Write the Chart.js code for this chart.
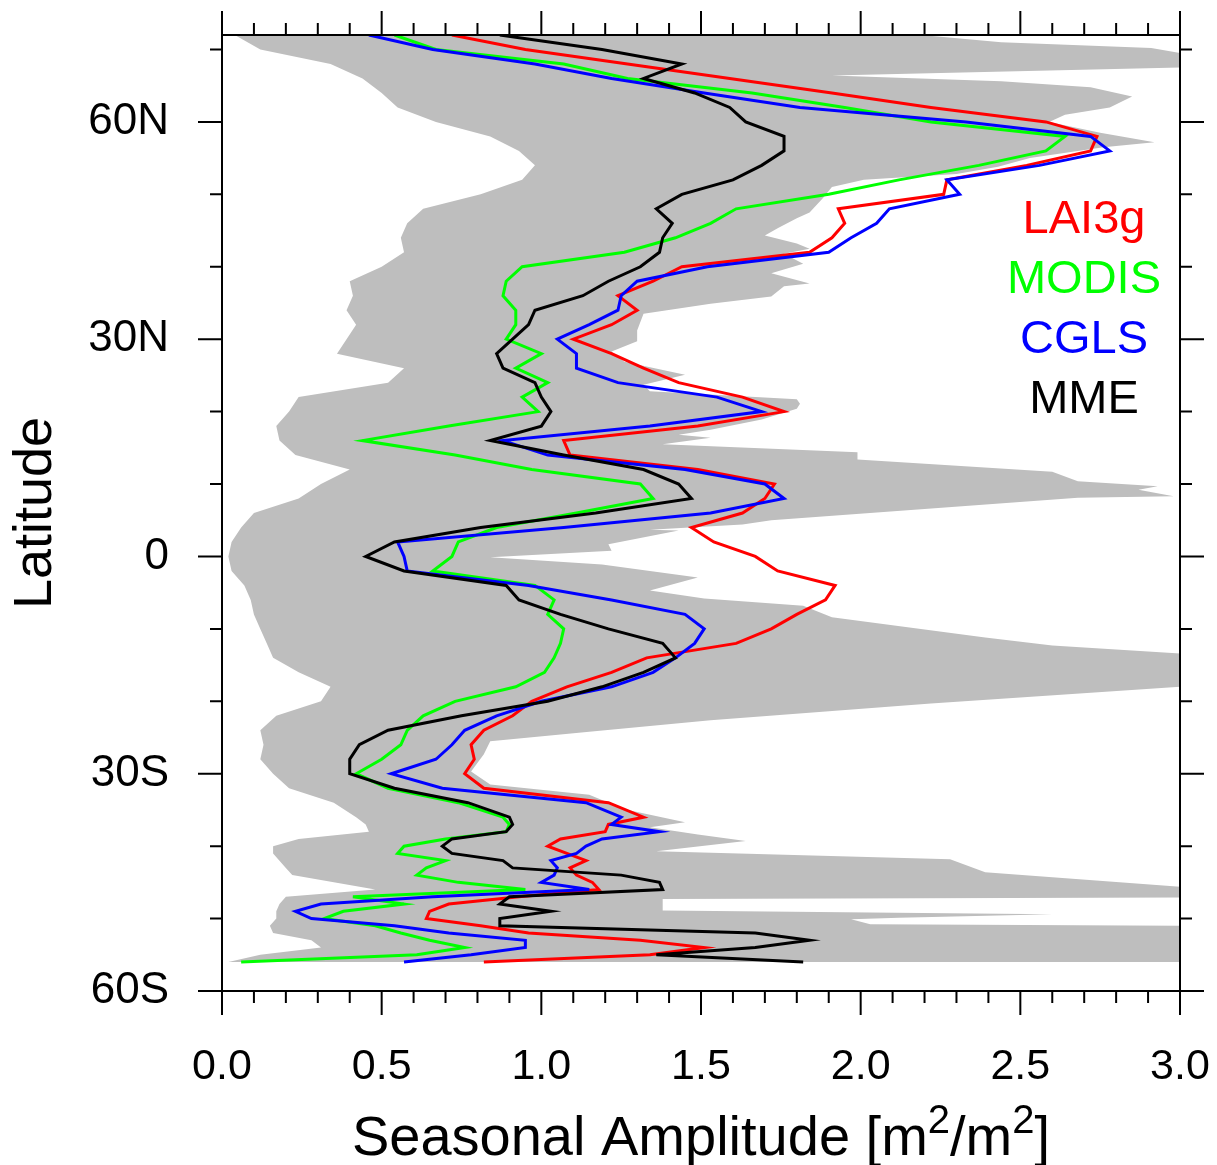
<!DOCTYPE html>
<html lang="en">
<head>
<meta charset="UTF-8">
<title>Seasonal Amplitude by Latitude</title>
<script src="https://cdn.jsdelivr.net/npm/chart.js@4.4.0/dist/chart.umd.min.js"></script>
<style>
  html, body { margin: 0; padding: 0; background: #fff; }
</style>
</head>
<body>
<canvas id="amp" width="1217" height="1165"></canvas>
<script>
// latitude of each profile sample (+ = N, - = S); 1 degree steps in the jagged far south
const lats = [72,70,68,66,64,62,60,58,56,54,52,50,48,46,44,42,40,38,36,34,32,30,28,26,24,22,20,18,16,14,12,10,8,6,4,2,0,
  -2,-4,-6,-8,-10,-12,-14,-16,-18,-20,-22,-24,-26,-28,-30,-32,-34,
  -36,-37,-38,-39,-40,-41,-42,-43,-44,-45,-46,-47,-48,-49,-50,-51,-52,-53,-54,-55,-56];

// seasonal amplitude [m2/m2]
const lai3g = [0.72,0.95,1.27,1.59,1.91,2.22,2.58,2.74,2.72,2.52,2.27,2.26,1.93,1.95,1.91,1.84,1.44,1.35,1.24,1.30,1.22,1.10,1.22,1.32,1.43,1.63,1.76,1.49,1.07,1.09,1.49,1.73,1.70,1.63,1.47,1.54,1.67,
  1.74,1.92,1.89,1.80,1.72,1.61,1.33,1.22,1.08,0.97,0.91,0.82,0.78,0.79,0.76,0.82,1.21,
  1.32,1.21,1.20,1.06,1.02,1.08,1.14,1.09,1.11,1.16,1.18,0.93,0.71,0.65,0.64,0.81,0.96,1.31,1.51,1.34,0.82];
const modis = [0.54,0.67,1.07,1.27,1.66,1.95,2.22,2.64,2.58,2.37,2.12,1.90,1.61,1.53,1.42,1.26,0.94,0.89,0.88,0.92,0.92,0.89,1.00,0.92,1.02,0.94,0.99,0.71,0.44,0.73,0.97,1.31,1.35,1.11,0.86,0.74,0.72,
  0.66,0.98,1.04,1.02,1.07,1.06,1.04,1.01,0.92,0.73,0.63,0.58,0.56,0.50,0.42,0.52,0.74,
  0.88,0.90,0.89,0.70,0.57,0.55,0.70,0.64,0.61,0.74,0.95,0.41,0.57,0.38,0.32,0.48,0.56,0.65,0.76,0.61,0.06];
const cgls = [0.46,0.66,0.98,1.22,1.51,1.81,2.33,2.72,2.78,2.56,2.27,2.31,2.09,2.05,1.97,1.90,1.52,1.30,1.25,1.24,1.15,1.05,1.11,1.11,1.24,1.55,1.69,1.34,0.88,1.02,1.45,1.70,1.76,1.53,1.07,0.55,0.57,
  0.58,0.96,1.22,1.45,1.51,1.48,1.42,1.35,1.22,1.00,0.86,0.76,0.72,0.67,0.53,0.69,1.14,
  1.25,1.22,1.37,1.19,1.14,1.11,1.03,1.05,1.04,1.00,1.15,0.66,0.31,0.23,0.28,0.54,0.71,0.95,0.95,0.78,0.57];
const mme = [0.87,1.19,1.44,1.32,1.48,1.59,1.64,1.76,1.76,1.69,1.60,1.44,1.36,1.41,1.38,1.37,1.31,1.21,1.13,0.98,0.96,0.91,0.86,0.88,0.98,1.00,1.03,1.00,0.84,1.07,1.32,1.43,1.47,1.17,0.81,0.54,0.45,
  0.57,0.89,0.93,1.06,1.21,1.38,1.42,1.32,1.19,1.02,0.75,0.52,0.43,0.40,0.40,0.54,0.77,
  0.90,0.91,0.89,0.72,0.69,0.72,0.88,0.91,1.25,1.37,1.38,0.90,0.87,1.03,0.87,0.87,1.67,1.84,1.67,1.36,1.82];

// grey model envelope: low edge on the same latitudes, high edge on its own latitudes
const envLo = [0.04,0.12,0.34,0.44,0.50,0.55,0.67,0.84,0.93,0.98,0.94,0.81,0.63,0.58,0.56,0.57,0.50,0.40,0.41,0.39,0.42,0.39,0.36,0.57,0.52,0.24,0.21,0.17,0.18,0.23,0.40,0.31,0.24,0.10,0.06,0.03,0.02,
  0.03,0.07,0.09,0.10,0.12,0.14,0.16,0.24,0.34,0.31,0.17,0.12,0.13,0.12,0.16,0.21,0.35,
  0.42,0.45,0.46,0.24,0.16,0.16,0.18,0.20,0.22,0.35,0.48,0.20,0.18,0.17,0.17,0.15,0.16,0.28,0.31,0.12,0.02];
const envHiLats = [72,71,70.2,69.5,67.5,66.4,65.6,64.8,63.5,62,61,60,58.5,57.2,56.5,55,53.8,52.8,52,51,49.4,47.5,46.7,45.3,44.3,43.2,42.5,41.8,40.4,39.1,
  37.7,37.3,35.9,34.9,33.5,31.2,29.7,28.3,26.9,25.1,23.7,22.8,21.7,21.1,20.4,18.9,17.5,16.8,16.4,15.5,14.4,13.4,11.7,10.4,9.7,9.2,8.3,8.1,5.0,4.4,
  3.7,3.6,1.7,0.8,-0.1,-1.1,-2.9,-4.7,-5.8,-6.8,-8.4,-11.2,-12.3,-13.4,-18,-20.3,-22.6,-24.2,-25.5,-27.3,-29.7,-31.5,-32.9,-34.9,-36.7,-37.4,-38.4,-39.3,
  -40.7,-41.8,-43.6,-45.6,-47.1,-47.3,-48.9,-49.4,-49.9,-50.1,-50.8,-51.0,-56];
const envHi = [2.19,2.44,2.91,3.0,3.0,1.91,2.44,2.72,2.85,2.78,2.64,2.59,2.75,2.92,2.76,2.53,2.43,2.30,2.01,1.91,1.88,1.84,1.80,1.74,1.70,1.80,1.84,1.76,1.82,1.72,
  1.84,1.76,1.72,1.53,1.32,1.30,1.30,1.22,1.26,1.45,1.32,1.34,1.80,1.81,1.80,1.69,1.53,1.43,1.53,1.38,1.99,1.99,2.60,2.68,2.93,2.87,2.98,2.68,1.72,1.63,
  1.34,1.43,1.21,1.22,0.84,1.19,1.49,1.34,1.51,1.82,1.91,2.39,2.60,3.0,3.0,2.22,1.53,1.15,0.84,0.82,0.78,0.84,1.15,1.26,1.45,1.34,1.49,1.64,
  1.36,2.28,2.39,3.0,3.0,1.38,1.38,2.60,2.12,1.97,2.03,3.0,3.0];

const latTicks = [-60,-30,0,30,60];
const seriesNames = ['LAI3g','MODIS','CGLS','MME'];
const seriesColors = ['#ff0000','#00ff00','#0000ff','#000000'];

Chart.defaults.font.family = "'Liberation Sans', Arial, sans-serif";
Chart.defaults.color = '#000';

const toPts = vals => vals.map((v, i) => ({x: v, y: lats[i]}));

// grey band drawn as one polygon through the scales
const envelope = {
  id: 'envelope',
  beforeDatasetsDraw(chart) {
    const {ctx, chartArea: a, scales: {x, y}} = chart;
    ctx.save();
    ctx.beginPath();
    ctx.rect(a.left, a.top, a.width, a.height);
    ctx.clip();
    ctx.beginPath();
    lats.forEach((lat, i) => {
      const px = x.getPixelForValue(envLo[i]), py = y.getPixelForValue(lat);
      i ? ctx.lineTo(px, py) : ctx.moveTo(px, py);
    });
    for (let i = envHiLats.length - 1; i >= 0; i--) {
      ctx.lineTo(x.getPixelForValue(envHi[i]), y.getPixelForValue(envHiLats[i]));
    }
    ctx.closePath();
    ctx.fillStyle = '#bebebe';
    ctx.fill();
    ctx.restore();
  }
};

// frame, outward tick marks on all sides, legend words, x title with superscripts
const frame = {
  id: 'frame',
  afterDraw(chart) {
    const {ctx, chartArea: a, scales: {x, y}} = chart;
    ctx.save();
    ctx.strokeStyle = '#000';
    ctx.lineWidth = 2;
    ctx.strokeRect(a.left, a.top, a.right - a.left, a.bottom - a.top);
    ctx.beginPath();
    for (let i = 0; i <= 30; i++) {
      const px = x.getPixelForValue(i / 10), len = i % 5 ? 12 : 24;
      ctx.moveTo(px, a.bottom); ctx.lineTo(px, a.bottom + len);
      ctx.moveTo(px, a.top); ctx.lineTo(px, a.top - len);
    }
    for (let v = -60; v <= 70; v += 10) {
      const py = y.getPixelForValue(v), len = v % 30 ? 12 : 24;
      ctx.moveTo(a.left, py); ctx.lineTo(a.left - len, py);
      ctx.moveTo(a.right, py); ctx.lineTo(a.right + len, py);
    }
    ctx.stroke();

    ctx.textAlign = 'center';
    ctx.textBaseline = 'middle';
    ctx.font = "47px 'Liberation Sans', Arial, sans-serif";
    seriesNames.forEach((n, i) => {
      ctx.fillStyle = seriesColors[i];
      ctx.fillText(n, a.right - 96, 220 + i * 60);
    });

    const parts = [['Seasonal Amplitude [m', false], ['2', true], ['/m', false], ['2', true], [']', false]];
    const big = "56px 'Liberation Sans', Arial, sans-serif", small = "40px 'Liberation Sans', Arial, sans-serif";
    let w = 0;
    parts.forEach(([t, sup]) => { ctx.font = sup ? small : big; w += ctx.measureText(t).width; });
    let cx = (a.left + a.right) / 2 - w / 2;
    const base = 1155;
    ctx.textAlign = 'left';
    ctx.textBaseline = 'alphabetic';
    ctx.fillStyle = '#000';
    parts.forEach(([t, sup]) => {
      ctx.font = sup ? small : big;
      ctx.fillText(t, cx, sup ? base - 22 : base);
      cx += ctx.measureText(t).width;
    });
    ctx.restore();
  }
};

const datasets = [lai3g, modis, cgls, mme].map((vals, i) => ({
  label: seriesNames[i],
  data: toPts(vals),
  showLine: true,
  borderColor: seriesColors[i],
  borderWidth: 3,
  pointRadius: 0,
  tension: 0,
  order: 4 - i
}));

new Chart(document.getElementById('amp'), {
  type: 'scatter',
  data: { datasets },
  plugins: [envelope, frame],
  options: {
    responsive: false,
    animation: false,
    devicePixelRatio: 1,
    layout: { autoPadding: false, padding: { top: 35, right: 37, left: 0, bottom: 0 } },
    plugins: { legend: { display: false }, tooltip: { enabled: false } },
    scales: {
      x: {
        type: 'linear', min: 0, max: 3,
        grid: { display: false, drawTicks: false }, border: { display: false },
        ticks: { stepSize: 0.5, callback: v => v.toFixed(1), font: { size: 43 }, padding: 50, color: '#000' },
        afterFit: s => { s.height = 174; s.paddingLeft = 0; s.paddingRight = 0; }
      },
      y: {
        type: 'linear', min: -60, max: 72,
        grid: { display: false, drawTicks: false }, border: { display: false },
        afterBuildTicks: s => { s.ticks = latTicks.map(v => ({ value: v })); },
        ticks: {
          font: { size: 44 }, padding: 53, color: '#000',
          callback: v => v === 0 ? '0' : (v > 0 ? v + 'N' : (-v) + 'S')
        },
        title: { display: true, text: 'Latitude', font: { size: 54 }, padding: { top: 4, bottom: 0 }, color: '#000' },
        afterFit: s => { s.width = 222; s.paddingTop = 0; s.paddingBottom = 0; }
      }
    }
  }
});
</script>
</body>
</html>
